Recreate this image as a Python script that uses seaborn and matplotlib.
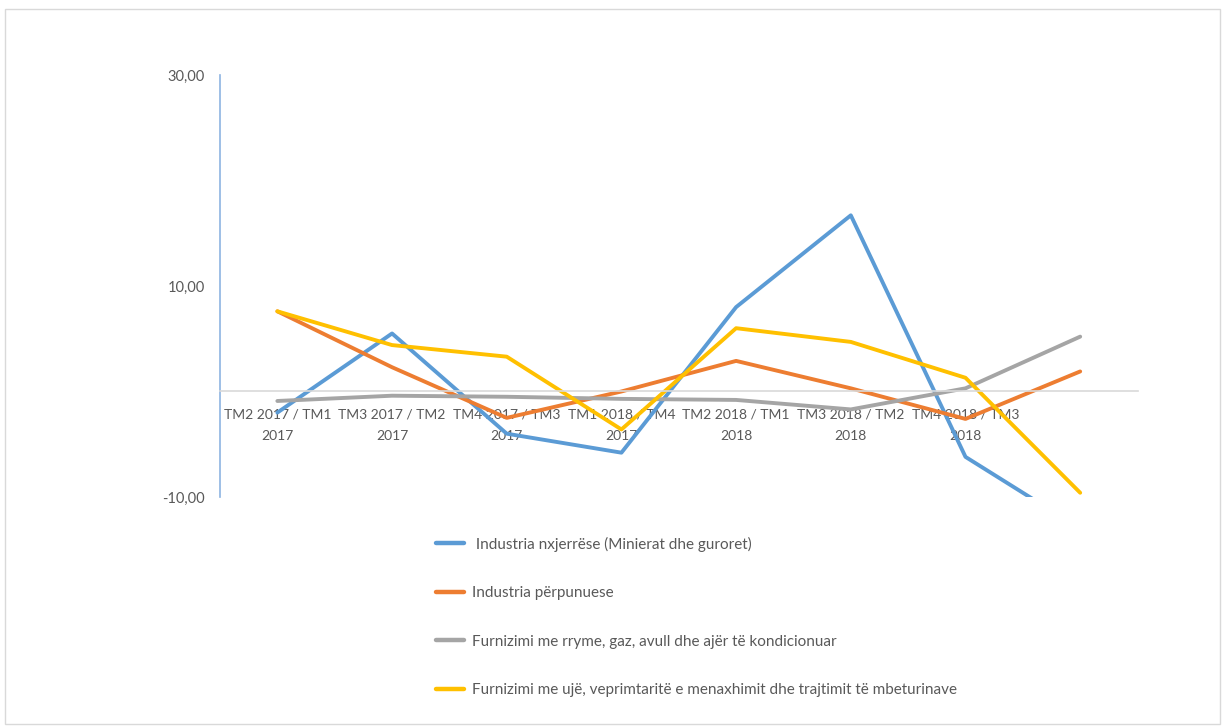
import pandas as pd
import numpy as np
import matplotlib
matplotlib.use("Agg")
import matplotlib.pyplot as plt
from matplotlib.ticker import FuncFormatter
from matplotlib.patches import Rectangle
import seaborn as sns

# Periods (quarter over previous quarter)
periods = [
    "TM2 2017 / TM1 2017",
    "TM3 2017 / TM2 2017",
    "TM4 2017 / TM3 2017",
    "TM1 2018 / TM4 2017",
    "TM2 2018 / TM1 2018",
    "TM3 2018 / TM2 2018",
    "TM4 2018 / TM3 2018",
    "TM1 2019 / TM4 2018",
]
tick_labels = [
    "TM2 2017 / TM1\n2017",
    "TM3 2017 / TM2\n2017",
    "TM4 2017 / TM3\n2017",
    "TM1 2018 / TM4\n2017",
    "TM2 2018 / TM1\n2018",
    "TM3 2018 / TM2\n2018",
    "TM4 2018 / TM3\n2018",
    "",
]

series_names = [
    " Industria nxjerrëse (Minierat dhe guroret)",
    "Industria përpunuese",
    "Furnizimi me rryme, gaz, avull dhe ajër të kondicionuar",
    "Furnizimi me ujë, veprimtaritë e menaxhimit dhe trajtimit të mbeturinave",
]
nxjerrese = [-2.0, 5.5, -4.0, -5.8, 8.0, 16.7, -6.2, -13.0]
perpunuese = [7.6, 2.3, -2.5, 0.0, 2.9, 0.3, -2.6, 1.9]
energji = [-0.9, -0.4, -0.5, -0.7, -0.8, -1.7, 0.3, 5.2]
uje = [7.6, 4.4, 3.3, -3.6, 6.0, 4.7, 1.3, -9.6]

colors = ["#5B9BD5", "#ED7D31", "#A5A5A5", "#FFC000"]

rows = []
for name, vals in zip(series_names, [nxjerrese, perpunuese, energji, uje]):
    for i, v in enumerate(vals):
        rows.append((name, i, v))
df = pd.DataFrame(rows, columns=["series", "x", "value"])

sns.set_style("white")
plt.rcParams["font.family"] = ["Lato", "DejaVu Sans"]

fig = plt.figure(figsize=(12.25, 7.27), dpi=100)
ax = fig.add_axes([0.1796, 0.3164, 0.749, 0.5804])

sns.lineplot(data=df, x="x", y="value", hue="series", hue_order=series_names,
             palette=colors, linewidth=2.8, ax=ax, sort=False)

ax.set_xlim(-0.5, 7.5)
ax.set_ylim(-10, 30)
ax.set_yticks([-10, 10, 30])
ax.yaxis.set_major_formatter(FuncFormatter(lambda v, p: f"{v:.2f}".replace(".", ",")))
ax.set_xticks(range(len(periods)))
ax.set_xticklabels(tick_labels)
ax.set_xlabel("")
ax.set_ylabel("")

for s in ["top", "right"]:
    ax.spines[s].set_visible(False)
ax.spines["bottom"].set_position(("data", 0))
ax.spines["bottom"].set_color("#D9D9D9")
ax.spines["bottom"].set_linewidth(1.2)
ax.spines["left"].set_color("#8DB4E2")
ax.spines["left"].set_linewidth(1.2)

ax.tick_params(axis="x", length=0, pad=12, labelsize=10, labelcolor="#595959")
ax.tick_params(axis="y", direction="out", length=5, width=1.2, color="#8DB4E2",
               labelsize=10.5, labelcolor="#595959", pad=6)
for lbl in ax.get_xticklabels():
    lbl.set_linespacing(1.95)

ax.get_legend().remove()
handles = [plt.Line2D([], [], color=c, linewidth=3.2) for c in colors]
fig.legend(handles, series_names, loc="upper left",
           bbox_to_anchor=(422 / 1225, 1 - 523 / 727), frameon=False,
           fontsize=11, labelcolor="#595959", labelspacing=2.25,
           handlelength=1.85, handletextpad=0.55)

fig.patches.append(Rectangle((0.004, 0.004), 0.992, 0.984, transform=fig.transFigure,
                             fill=False, edgecolor="#D9D9D9", linewidth=1))

fig.savefig("out.png", dpi=100)
